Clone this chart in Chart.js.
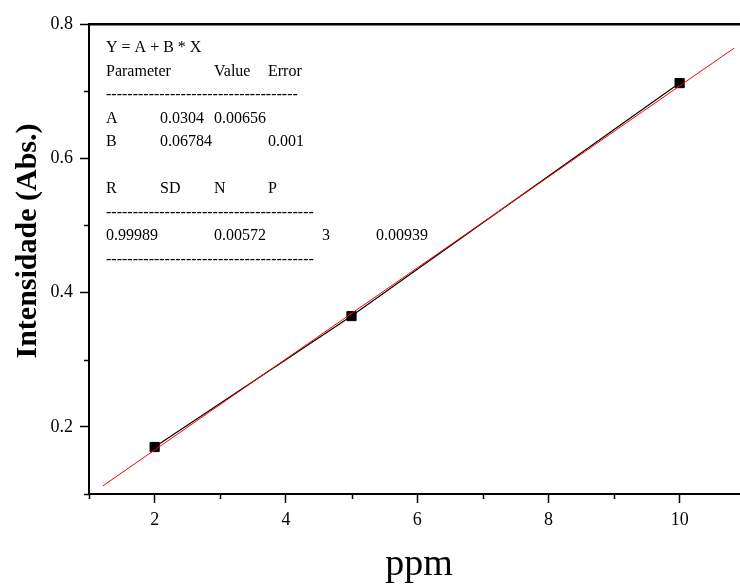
<!DOCTYPE html>
<html>
<head>
<meta charset="utf-8">
<script src="https://cdn.jsdelivr.net/npm/chart.js@4.4.1/dist/chart.umd.min.js"></script>
<style>
  html, body { margin: 0; padding: 0; background: #fff; overflow: hidden; }
  #wrap { width: 740px; height: 585px; }
</style>
</head>
<body>
<div id="wrap"><canvas id="chart" width="740" height="585"></canvas></div>
<script>
// measured standards
const ppm = [2, 5, 10];
const absorb = [0.170, 0.365, 0.712];
// linear fit line, ends
const fitX = [1.21, 10.83];
const fitY = [0.112, 0.764];

const xTicks = [1, 2, 3, 4, 5, 6, 7, 8, 9, 10];
const xMajor = [2, 4, 6, 8, 10];
const yTicks = [0.1, 0.2, 0.3, 0.4, 0.5, 0.6, 0.7, 0.8];
const yMajor = [0.2, 0.4, 0.6, 0.8];

// Origin style fit report, one row per line, columns on tab stops
const reportRows = [
  ['Y = A + B * X'],
  ['Parameter', '', 'Value', 'Error'],
  ['------------------------------------'],
  ['A', '0.0304', '0.00656'],
  ['B', '0.06784', '', '0.001'],
  [],
  ['R', 'SD', 'N', 'P'],
  ['---------------------------------------'],
  ['0.99989', '', '0.00572', '', '3', '0.00939'],
  ['---------------------------------------']
];

const serif = '"Liberation Serif", "Times New Roman", serif';
const isMajor = (list, v) => list.some(m => Math.abs(m - v) < 1e-6);

const extras = {
  id: 'extras',
  afterDraw(chart) {
    const ctx = chart.ctx;
    const area = chart.chartArea;
    const xs = chart.scales.x, ys = chart.scales.y;
    ctx.save();
    // minor ticks
    ctx.strokeStyle = '#000';
    ctx.lineWidth = 1.5;
    xTicks.filter(v => !isMajor(xMajor, v)).forEach(v => {
      const px = Math.round(xs.getPixelForValue(v)) + 0.5;
      ctx.beginPath();
      ctx.moveTo(px, area.bottom);
      ctx.lineTo(px, area.bottom + 5);
      ctx.stroke();
    });
    yTicks.filter(v => !isMajor(yMajor, v)).forEach(v => {
      const py = Math.round(ys.getPixelForValue(v)) + 0.5;
      ctx.beginPath();
      ctx.moveTo(area.left, py);
      ctx.lineTo(area.left - 5, py);
      ctx.stroke();
    });

    // fit report
    ctx.fillStyle = '#000';
    ctx.font = '16px ' + serif;
    ctx.textBaseline = 'alphabetic';
    ctx.textAlign = 'left';
    reportRows.forEach((row, i) => {
      row.forEach((cell, j) => {
        if (cell) ctx.fillText(cell, area.left + 17 + j * 54, area.top + 28 + i * 23.5);
      });
    });

    // axis titles
    ctx.font = 'bold 30px ' + serif;
    ctx.textAlign = 'center';
    ctx.textBaseline = 'middle';
    ctx.translate(28, 241);
    ctx.rotate(-Math.PI / 2);
    ctx.fillText('Intensidade (Abs.)', 0, 0);
    ctx.setTransform(1, 0, 0, 1, 0, 0);
    ctx.font = '38px ' + serif;
    ctx.textBaseline = 'alphabetic';
    ctx.fillText('ppm', 419, 575);
    ctx.restore();
  }
};

new Chart(document.getElementById('chart'), {
  type: 'scatter',
  data: {
    datasets: [
      {
        label: 'fit',
        data: fitX.map((x, i) => ({ x: x, y: fitY[i] })),
        showLine: true,
        borderColor: '#ff0000',
        borderWidth: 1,
        pointRadius: 0
      },
      {
        label: 'data',
        data: ppm.map((x, i) => ({ x: x, y: absorb[i] })),
        showLine: true,
        borderColor: '#000',
        borderWidth: 1.2,
        backgroundColor: '#000',
        pointStyle: 'rect',
        pointRadius: 6.5,
        pointBorderWidth: 1
      }
    ]
  },
  options: {
    responsive: false,
    animation: false,
    layout: { padding: 0, autoPadding: false },
    plugins: { legend: { display: false }, tooltip: { enabled: false } },
    scales: {
      x: {
        type: 'linear',
        position: 'bottom',
        min: 1,
        max: 10.92,
        afterBuildTicks: s => { s.ticks = xTicks.map(v => ({ value: v })); },
        afterFit: s => { s.height = 91; s.paddingLeft = 0; s.paddingRight = 0; },
        grid: {
          drawOnChartArea: false,
          tickLength: 9,
          tickWidth: 1.5,
          tickColor: c => isMajor(xMajor, c.tick.value) ? '#000' : 'rgba(0,0,0,0)'
        },
        border: { color: '#000', width: 2 },
        ticks: {
          color: '#000',
          padding: 6,
          maxRotation: 0,
          autoSkip: false,
          font: { family: serif, size: 18 },
          callback: v => isMajor(xMajor, v) ? String(v) : ''
        }
      },
      xTop: {
        type: 'linear',
        position: 'top',
        min: 1,
        max: 10.92,
        afterFit: s => { s.height = 24; s.paddingLeft = 0; s.paddingRight = 0; },
        grid: { display: false },
        border: { color: '#000', width: 2.5 },
        ticks: { display: false }
      },
      y: {
        type: 'linear',
        position: 'left',
        min: 0.1,
        max: 0.8,
        afterBuildTicks: s => { s.ticks = yTicks.map(v => ({ value: v })); },
        afterFit: s => { s.width = 89; s.paddingTop = 0; s.paddingBottom = 0; },
        grid: {
          drawOnChartArea: false,
          tickLength: 9,
          tickWidth: 1.5,
          tickColor: c => isMajor(yMajor, c.tick.value) ? '#000' : 'rgba(0,0,0,0)'
        },
        border: { color: '#000', width: 2 },
        ticks: {
          color: '#000',
          padding: 7,
          autoSkip: false,
          font: { family: serif, size: 18 },
          callback: v => isMajor(yMajor, v) ? v.toFixed(1) : ''
        }
      }
    }
  },
  plugins: [extras]
});
</script>
</body>
</html>
